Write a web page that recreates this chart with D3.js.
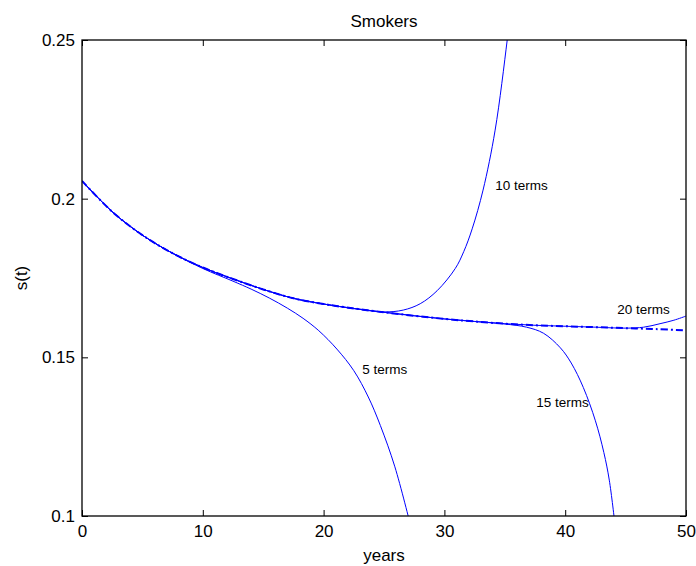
<!DOCTYPE html>
<html>
<head>
<meta charset="utf-8">
<script src="https://cdn.jsdelivr.net/npm/d3@7"></script>
<style>
  html, body { margin: 0; padding: 0; background: #fff; }
  svg text { font-family: "Liberation Sans", Arial, Helvetica, sans-serif; fill: #000; }
</style>
</head>
<body>
<svg id="chart" width="696" height="566"></svg>
<script>
// ---- data ----
const title = "Smokers";
const xLabel = "years";
const yLabel = "s(t)";
const xTicks = [0, 10, 20, 30, 40, 50];
const yTicks = [0.1, 0.15, 0.2, 0.25];
const yTickLabels = ["0.1", "0.15", "0.2", "0.25"];

// exact solution (dash-dot)
const exactT = [0, 2.5, 5, 7.5, 10, 12.5, 15, 17.5, 20, 22.5, 25, 27.5, 30, 32.5, 35, 37.5, 40, 42.5, 45, 47.5, 50];
const exactS = [0.2056, 0.1959, 0.1885, 0.1828, 0.1783, 0.1747, 0.1714, 0.1686, 0.1668, 0.1654, 0.1642, 0.1631, 0.1621, 0.1613, 0.1606, 0.1601, 0.1598, 0.1595, 0.1592, 0.1589, 0.1585];

// truncated series approximations
const fiveT = [0, 2.5, 5, 7.5, 10, 12.5, 14, 15.5, 17, 18.3, 19.6, 21.1, 22.5, 23.7, 24.7, 25.9, 27.2];
const fiveS = [0.2056, 0.1959, 0.1885, 0.1828, 0.1780, 0.1740, 0.1715, 0.1687, 0.1655, 0.1623, 0.1584, 0.1526, 0.1458, 0.1375, 0.1285, 0.1155, 0.0970];

const tenT = [0, 2.5, 5, 7.5, 10, 12.5, 15, 17.5, 20, 23, 25, 26.6, 28, 29.4, 30.9, 31.6, 32.3, 33.2, 34.2, 35.2, 35.5];
const tenS = [0.2056, 0.1959, 0.1885, 0.1828, 0.1783, 0.1747, 0.1714, 0.1686, 0.1668, 0.1651, 0.1643, 0.1649, 0.1669, 0.1710, 0.1780, 0.1833, 0.1905, 0.2027, 0.2216, 0.2500, 0.2600];

const fifteenT = [0, 2.5, 5, 7.5, 10, 12.5, 15, 17.5, 20, 22.5, 25, 27.5, 30, 32.5, 35, 36.8, 38.2, 39.6, 40.5, 41.5, 42.5, 43.2, 43.65, 44.1];
const fifteenS = [0.2056, 0.1959, 0.1885, 0.1828, 0.1783, 0.1747, 0.1714, 0.1686, 0.1668, 0.1654, 0.1642, 0.1631, 0.1621, 0.1613, 0.1605, 0.1595, 0.1576, 0.1530, 0.1482, 0.1405, 0.1300, 0.1200, 0.1113, 0.0980];

const twentyT = [0, 2.5, 5, 7.5, 10, 12.5, 15, 17.5, 20, 22.5, 25, 27.5, 30, 32.5, 35, 37.5, 40, 42.5, 45, 46.5, 47.85, 49, 50];
const twentyS = [0.2056, 0.1959, 0.1885, 0.1828, 0.1783, 0.1747, 0.1714, 0.1686, 0.1668, 0.1654, 0.1642, 0.1631, 0.1621, 0.1613, 0.1606, 0.1601, 0.1598, 0.1595, 0.1592, 0.1595, 0.1606, 0.1617, 0.1630];

const seriesLabels = ["5 terms", "10 terms", "15 terms", "20 terms"];
const labelAt = [[23.2, 0.1447], [34.2, 0.2027], [37.6, 0.1345], [44.3, 0.1635]];

// ---- layout ----
const svg = d3.select("#chart");
const mL = 82, mR = 686, mT = 40, mB = 516;
const x = d3.scaleLinear().domain([0, 50]).range([mL, mR]);
const y = d3.scaleLinear().domain([0.1, 0.25]).range([mB, mT]);
const blue = "#0000ff";

svg.append("defs").append("clipPath").attr("id", "clip")
  .append("rect").attr("x", mL).attr("y", mT).attr("width", mR - mL).attr("height", mB - mT);

const line = d3.line().x(d => x(d[0])).y(d => y(d[1])).curve(d3.curveCatmullRom.alpha(0.5));
const zip = (a, b) => a.map((v, i) => [v, b[i]]);

const g = svg.append("g").attr("clip-path", "url(#clip)");
[[fiveT, fiveS], [tenT, tenS], [fifteenT, fifteenS], [twentyT, twentyS]].forEach(([t, s]) => {
  g.append("path").attr("d", line(zip(t, s)))
    .attr("fill", "none").attr("stroke", blue).attr("stroke-width", 1);
});
g.append("path").attr("d", line(zip(exactT, exactS)))
  .attr("fill", "none").attr("stroke", blue).attr("stroke-width", 2)
  .attr("stroke-dasharray", "7,3,2,3");

// series labels
seriesLabels.forEach((txt, i) => {
  svg.append("text").attr("x", x(labelAt[i][0])).attr("y", y(labelAt[i][1]))
    .attr("font-size", 13.5).text(txt);
});

// axes (MATLAB-style box with inward ticks)
function style(sel) {
  sel.select(".domain").remove();
  sel.selectAll(".tick line").attr("stroke", "#000").attr("stroke-width", 1);
  sel.selectAll(".tick text").attr("font-size", 17).attr("font-family", "Liberation Sans, Arial, sans-serif").attr("fill", "#000");
}
svg.append("g").attr("transform", `translate(0,${mB})`)
  .call(d3.axisBottom(x).tickValues(xTicks).tickSize(-6).tickPadding(9).tickFormat(d3.format("d")))
  .call(style);
svg.append("g").attr("transform", `translate(0,${mT})`)
  .call(d3.axisTop(x).tickValues(xTicks).tickSize(-6).tickFormat(""))
  .call(style);
svg.append("g").attr("transform", `translate(${mL},0)`)
  .call(d3.axisLeft(y).tickValues(yTicks).tickSize(-6).tickPadding(12).tickFormat((d, i) => yTickLabels[i]))
  .call(style)
  .selectAll(".tick text").attr("x", -7);
svg.append("g").attr("transform", `translate(${mR},0)`)
  .call(d3.axisRight(y).tickValues(yTicks).tickSize(-6).tickFormat(""))
  .call(style);

svg.append("rect").attr("x", mL).attr("y", mT).attr("width", mR - mL).attr("height", mB - mT)
  .attr("fill", "none").attr("stroke", "#000").attr("stroke-width", 1.3);

// titles
svg.append("text").attr("x", (mL + mR) / 2).attr("y", 27).attr("text-anchor", "middle")
  .attr("font-size", 17).text(title);
svg.append("text").attr("x", (mL + mR) / 2).attr("y", 561).attr("text-anchor", "middle")
  .attr("font-size", 17).text(xLabel);
svg.append("text").attr("transform", `translate(27,${(mT + mB) / 2}) rotate(-90)`).attr("text-anchor", "middle")
  .attr("font-size", 17).text(yLabel);
</script>
</body>
</html>
